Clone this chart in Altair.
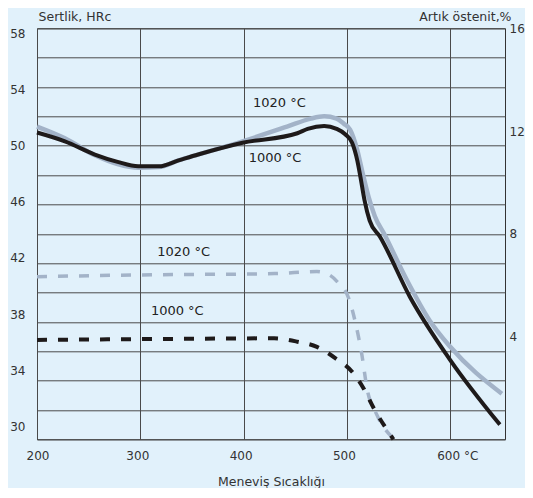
import altair as alt
import pandas as pd

# Hardness (HRc) vs tempering temperature
temp_1000 = [200, 227, 256, 278, 298, 318, 337, 356, 399, 452, 462, 478, 490, 498, 505, 510, 513, 517, 522, 532, 561, 600, 648]
hrc_1000 = [50.9, 50.3, 49.4, 48.9, 48.6, 48.6, 49.0, 49.4, 50.2, 50.85, 51.15, 51.35, 51.15, 50.8, 50.2, 49.0, 47.9, 46.3, 44.9, 43.8, 39.7, 35.4, 31.0]

temp_1020 = [200, 227, 256, 278, 298, 318, 337, 356, 399, 442, 465, 478, 490, 497, 503, 510, 514.5, 521, 527, 536, 558, 580, 600, 650]
hrc_1020 = [51.3, 50.5, 49.35, 48.75, 48.5, 48.55, 49.0, 49.4, 50.3, 51.3, 51.85, 52.0, 51.85, 51.5, 51.1, 49.7, 48.35, 46.5, 45.2, 44.0, 40.85, 38.1, 36.3, 33.1]

# Retained austenite (%) vs tempering temperature
ra_temp_1020 = [200, 300, 430, 471, 483, 490.5, 501.7, 508, 514.5, 519.4, 529, 545.7]
ra_1020 = [6.33, 6.4, 6.45, 6.53, 6.4, 6.14, 5.49, 4.58, 3.28, 1.99, 0.95, 0.0]

ra_temp_1000 = [200, 300, 429.5, 452, 471, 489, 505, 516, 526, 545]
ra_1000 = [3.87, 3.9, 3.93, 3.8, 3.6, 3.15, 2.63, 1.99, 1.21, 0.0]

# Annotations (temperature, HRc position)
label_text = ["1020 °C", "1000 °C", "1020 °C", "1000 °C"]
label_temp = [434.6, 430.4, 342, 335.8]
label_hrc = [52.9, 49.17, 42.74, 38.74]

x_ticks = [200, 300, 400, 500, 600]
y_left_grid = list(range(30, 59, 2))
y_right_ticks = [4, 8, 12, 16]

BG = "#e1f1fb"
GRAY = "#a3b3c8"
BLACK = "#1e1a1a"
TXT = "#333333"
FONT = "DejaVu Sans"

df_h1000 = pd.DataFrame({"T": temp_1000, "H": hrc_1000})
df_h1020 = pd.DataFrame({"T": temp_1020, "H": hrc_1020})
df_a1020 = pd.DataFrame({"T": ra_temp_1020, "A": ra_1020})
df_a1000 = pd.DataFrame({"T": ra_temp_1000, "A": ra_1000})
df_lab = pd.DataFrame({"T": label_temp, "H": label_hrc, "text": label_text})

x_enc = alt.X(
    "T:Q",
    scale=alt.Scale(domain=[200, 653], nice=False, zero=False),
    axis=alt.Axis(
        values=x_ticks,
        labelExpr="datum.value == 600 ? '600 °C' : datum.label",
        grid=True, gridColor="#4a4a4a", gridWidth=1,
        ticks=False, tickSize=0, domain=False,
        labelPadding=11, labelFontSize=12, labelColor=TXT, labelFont=FONT,
        labelOffset={"expr": "datum.value == 200 ? -11 : (datum.value == 600 ? 7 : -3)"},
        title="Meneviş Sıcaklığı", titleFont=FONT, titleFontSize=12.5,
        titleFontWeight="normal", titleColor=TXT,
        titleBaseline="middle", titleY=42,
    ),
)

y_left = alt.Y(
    "H:Q",
    scale=alt.Scale(domain=[30, 58], nice=False, zero=False),
    axis=alt.Axis(
        values=y_left_grid,
        labelExpr="datum.value % 4 == 2 ? datum.label : ''",
        grid=True, gridColor="#4a4a4a", gridWidth=1,
        ticks=False, tickSize=0, domain=False,
        labelPadding=12, labelFontSize=12, labelColor=TXT, labelFont=FONT,
        labelOffset={"expr": "(datum.value - 50) * 0.65"},
        title="Sertlik, HRc", titleAngle=0, titleAlign="left",
        titleBaseline="middle", titleX=1, titleY=-12,
        titleFont=FONT, titleFontSize=12.5, titleFontWeight="normal", titleColor=TXT,
    ),
)

y_right = alt.Y(
    "A:Q",
    scale=alt.Scale(domain=[0, 16], nice=False, zero=False),
    axis=alt.Axis(
        orient="right",
        values=y_right_ticks,
        grid=False, ticks=False, tickSize=0, domain=False,
        labelPadding=4, labelFontSize=12, labelColor=TXT, labelFont=FONT,
        title="Artık östenit,%", titleAngle=0, titleAlign="right",
        titleBaseline="middle", titleX=6, titleY=-12,
        titleFont=FONT, titleFontSize=12.5, titleFontWeight="normal", titleColor=TXT,
    ),
)

gray_solid = alt.Chart(df_h1020).mark_line(
    color=GRAY, strokeWidth=4.5, interpolate="monotone", strokeJoin="round"
).encode(x=x_enc, y=y_left)

black_solid = alt.Chart(df_h1000).mark_line(
    color=BLACK, strokeWidth=4, interpolate="monotone", strokeJoin="round"
).encode(x=x_enc, y=y_left)

labels = alt.Chart(df_lab).mark_text(
    font=FONT, fontSize=13, color="#222222", align="center", baseline="middle"
).encode(x=x_enc, y=y_left, text="text:N")

left = alt.layer(gray_solid, black_solid, labels)

gray_dash = alt.Chart(df_a1020).mark_line(
    color=GRAY, strokeWidth=3.5, strokeDash=[10, 11], interpolate="monotone"
).encode(x=x_enc, y=y_right)

black_dash = alt.Chart(df_a1000).mark_line(
    color=BLACK, strokeWidth=4, strokeDash=[10, 11], interpolate="monotone"
).encode(x=x_enc, y=y_right)

right = alt.layer(gray_dash, black_dash)

chart = alt.layer(left, right).resolve_scale(y="independent").properties(
    width=468,
    height=411,
    padding={"left": 29, "top": 20.3, "right": 20, "bottom": 48.7},
    autosize=alt.AutoSizeParams(type="none"),
    background=BG,
).configure_view(
    fill=BG, stroke="#333333", strokeWidth=1
)

chart.save("out.html", embed_options={"renderer": "svg", "actions": False})
